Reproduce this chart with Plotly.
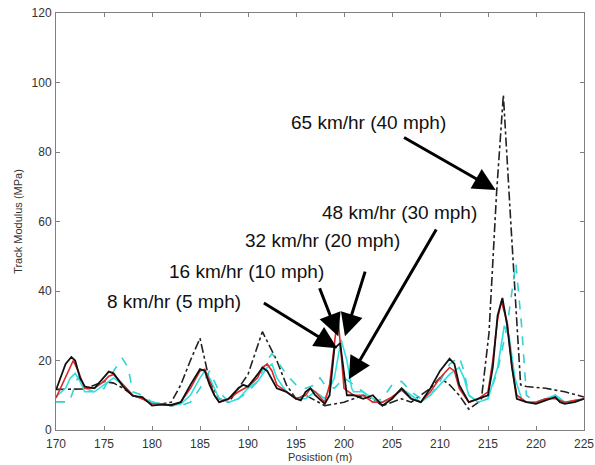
import plotly.graph_objects as go

# ---------------- data ----------------
x_8 = [170, 171, 171.6, 172, 172.5, 173, 174, 175, 175.5, 176, 176.5, 177, 178, 179, 180, 181, 182, 183, 184, 185, 185.5, 186, 186.5, 187, 188, 189, 189.5, 190, 191, 191.5, 192, 193, 194, 195, 195.5, 196, 196.5, 197, 198, 198.5, 199, 199.6, 200.3, 201, 202, 203, 204, 205, 206, 207, 208, 209, 210, 211, 211.5, 212, 213, 214, 215, 215.5, 216, 216.5, 217, 217.5, 218, 219, 220, 221, 222, 222.5, 223, 224, 225]
y_8 = [11.5, 19, 21, 20, 15, 12.5, 12, 15, 16.8, 16.3, 14.5, 12.5, 9.8, 9.5, 7, 7.3, 7.2, 8, 13, 17.5, 17, 13, 10, 8, 9, 12, 13, 12.5, 16, 18, 17, 12, 11, 9, 8.5, 11, 12, 10, 7.5, 10, 23.5, 25, 10, 10, 9, 10, 7, 9, 12, 9, 8, 12, 17, 20.5, 19, 13, 8, 9, 10, 18, 33, 38, 30, 18, 9, 8, 7.5, 8.5, 9.5, 8, 7.5, 8, 9]

x_16 = [170, 171, 171.8, 172.3, 173, 174, 175, 175.5, 176, 177, 178, 179, 180, 181, 182, 183, 184, 185, 185.5, 186, 186.5, 187, 188, 189, 190, 191, 191.5, 192, 192.5, 193, 194, 195, 196, 196.5, 197, 198, 198.5, 199, 199.35, 199.7, 200, 200.5, 201, 202, 203, 204, 205, 206, 207, 208, 209, 210, 211, 211.5, 212, 213, 214, 215, 215.5, 216, 216.4, 217, 217.5, 218, 219, 220, 221, 222, 223, 224, 225]
y_16 = [9.2, 15, 20, 17, 12, 12, 14, 15.5, 16, 13, 10, 9, 7.5, 7.5, 7, 8, 12, 17, 17.5, 14, 10, 8, 9, 11, 12.5, 15, 18, 19, 17, 13, 11, 9, 10, 12, 11, 8, 13, 25, 33, 22, 12, 11, 10, 10, 8, 8, 9.5, 11.5, 9, 8, 11, 15, 18, 17, 12, 8, 9, 11, 20, 32, 37, 31, 18, 10, 8, 8, 9, 9, 8, 8.5, 9]

x_32 = [170, 171, 171.5, 172, 172.5, 173, 174, 175, 176, 177, 178, 179, 180, 181, 182, 183, 184, 185, 185.5, 186, 187, 188, 189, 190, 191, 192, 192.5, 193, 194, 195, 196, 197, 198, 199, 199.7, 200.3, 200.8, 201, 202, 203, 204, 205, 206, 207, 208, 209, 210, 211, 212, 212.5, 213, 214, 215, 216, 216.7, 217.2, 217.8, 218.5, 219, 220, 221, 222, 223, 224, 225]
y_32 = [9.6, 12, 15, 16.3, 14, 11, 11, 13, 15, 13, 10, 9, 8, 7.5, 7, 7.5, 10, 15, 17, 15, 9, 8, 9, 12, 14, 18, 19, 15, 11, 9, 9, 11, 9, 15, 26, 20, 12, 11, 11, 9, 8, 9, 12, 10, 8, 10, 13, 16, 18, 15, 10, 8, 9, 18, 30, 27, 15, 9, 8, 8, 9, 10, 8, 8, 9]

x_48 = [170, 171, 171.4, 172.3, 173, 174, 175, 176, 176.9, 177.5, 178, 179, 180, 181, 182, 183, 184, 185, 186, 187, 188, 189, 190, 191, 192, 192.5, 193, 194, 195, 196, 197, 197.5, 198, 199, 200, 200.5, 201, 202, 203, 204, 205, 206, 207, 208, 209, 210, 211, 212, 212.5, 213, 214, 215, 216, 217, 217.9, 218.5, 219, 220, 221, 222, 223, 224, 225]
y_48 = [8.1, 8.1, 8.1, 15.3, 12, 11, 12, 17, 20.6, 18, 11, 10, 8, 7.5, 7, 7, 8, 12, 17, 11, 8, 9, 11, 14, 20, 22, 20, 16, 13, 12, 13, 15, 13, 12, 15, 14, 13, 11, 8, 9, 13, 14, 11, 9, 10, 14, 19, 21, 17, 10, 8, 9, 17, 30, 48, 30, 10, 8, 9, 10, 8, 8.5, 9]

x_65 = [170, 173, 175, 176, 177, 178, 179, 180, 181, 182, 183, 184, 185, 186, 187, 188, 189, 190, 191.5, 193, 194, 195, 196, 197, 198, 199, 200, 201, 202, 203, 204, 205, 206, 207, 208, 209, 210, 211, 212, 213, 214.3, 215.1, 215.9, 216.6, 217.4, 217.9, 218.4, 219, 221, 223, 225]
y_65 = [11.7, 11.8, 14, 13.5, 12, 10, 9, 8, 7.5, 8, 13, 20, 26.4, 14, 9, 8, 12, 16, 28.3, 20, 13, 9, 10, 8.5, 7, 7.5, 8, 9, 10, 9, 7, 8, 9, 8, 10, 12, 15, 13, 10, 6, 8.6, 27.8, 68.6, 96.4, 58.5, 37.4, 13, 12.5, 12, 11, 9.5]

labels = ["8 km/hr (5 mph)", "16 km/hr (10 mph)", "32 km/hr (20 mph)",
          "48 km/hr (30 mph)", "65 km/hr (40 mph)"]
# label centre positions (data coords)
label_x = [182.3, 189.8, 197.8, 205.8, 202.6]
label_y = [37.1, 45.5, 54.4, 62.7, 88.6]
# arrow tails and tips (data coords)
tail_x = [191.5, 197.4, 202.25, 209.7, 206.1]
tail_y = [36.8, 41.2, 46.0, 58.1, 84.4]
tip_x = [199.3, 199.4, 200.1, 200.5, 215.8]
tip_y = [23.5, 27.0, 27.0, 14.6, 69.1]

x_ticks = [170, 175, 180, 185, 190, 195, 200, 205, 210, 215, 220, 225]
y_ticks = [0, 20, 40, 60, 80, 100, 120]

# ---------------- figure ----------------
fig = go.Figure()
fig.add_trace(go.Scatter(x=x_65, y=y_65, mode="lines", name=labels[4],
                         line=dict(color="#222222", width=1.6, dash="dashdot")))
fig.add_trace(go.Scatter(x=x_48, y=y_48, mode="lines", name=labels[3],
                         line=dict(color="#35d0d0", width=1.6, dash="dash")))
fig.add_trace(go.Scatter(x=x_32, y=y_32, mode="lines", name=labels[2],
                         line=dict(color="#2ee0e0", width=1.6)))
fig.add_trace(go.Scatter(x=x_16, y=y_16, mode="lines", name=labels[1],
                         line=dict(color="#e02828", width=1.6)))
fig.add_trace(go.Scatter(x=x_8, y=y_8, mode="lines", name=labels[0],
                         line=dict(color="#111111", width=1.8)))

font_fam = "Liberation Sans, Arial, sans-serif"
for i in range(len(labels)):
    fig.add_annotation(x=label_x[i], y=label_y[i], text=labels[i], showarrow=False,
                       xref="x", yref="y", xanchor="center", yanchor="middle",
                       font=dict(family=font_fam, size=19, color="#111111"))
    fig.add_annotation(x=tip_x[i], y=tip_y[i], ax=tail_x[i], ay=tail_y[i],
                       xref="x", yref="y", axref="x", ayref="y", text="",
                       showarrow=True, arrowhead=2, arrowsize=1.5, arrowwidth=3,
                       arrowcolor="#000000", standoff=0, startstandoff=0)

fig.update_layout(
    width=595, height=465,
    margin=dict(l=56, r=11, t=13, b=35, autoexpand=False),
    paper_bgcolor="white", plot_bgcolor="white",
    showlegend=False,
    font=dict(family=font_fam, size=12, color="#333333"),
)
fig.update_xaxes(range=[170, 225], tickvals=x_ticks, ticks="inside", ticklen=4,
                 tickcolor="#808080", showline=True, linecolor="#808080", linewidth=1,
                 mirror="ticks", showgrid=False, zeroline=False, automargin=False,
                 ticklabelstandoff=3,
                 title=dict(text="Posistion (m)", font=dict(size=11, color="#333333"), standoff=0),
                 tickfont=dict(size=12, color="#333333"))
fig.update_yaxes(range=[0, 120], tickvals=y_ticks, ticks="inside", ticklen=4,
                 tickcolor="#808080", showline=True, linecolor="#808080", linewidth=1,
                 mirror="ticks", showgrid=False, zeroline=False, automargin=False,
                 ticklabelstandoff=1,
                 title=dict(text="Track Modulus (MPa)", font=dict(size=11, color="#333333"), standoff=6),
                 tickfont=dict(size=12, color="#333333"))

fig.write_html("out.html")
